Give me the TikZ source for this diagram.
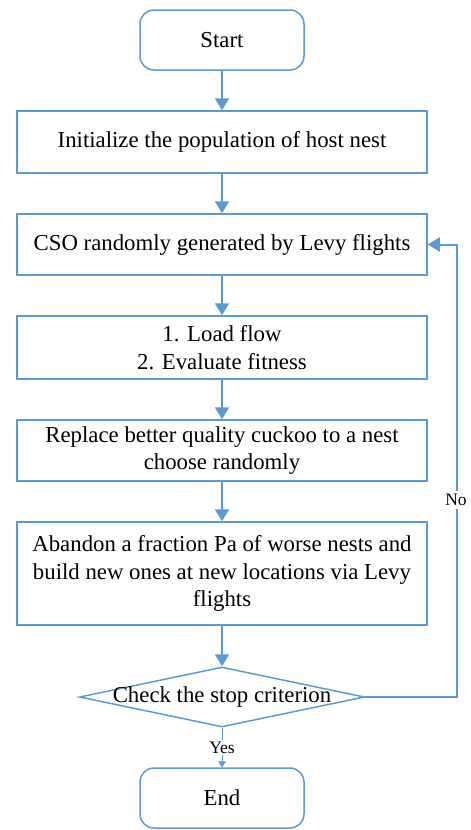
\documentclass[tikz,border=0pt]{standalone}
\usepackage{fontspec}
\setmainfont{Liberation Serif}
\newfontfamily\tnr{Liberation Serif}
\usetikzlibrary{arrows.meta,shapes.geometric}
\definecolor{lineblue}{HTML}{5B9BD5}
\begin{document}
\begin{tikzpicture}[x=1pt,y=-1pt, font=\tnr\fontsize{22.8}{27.5}\selectfont,
  box/.style={draw=lineblue, line width=1.5pt, fill=white, minimum width=410pt, align=center, inner sep=0pt},
  term/.style={draw=lineblue, line width=1.5pt, rounded corners=14pt, minimum width=164pt, minimum height=60pt},
  arr/.style={draw=lineblue, line width=2pt, -{Triangle[length=12pt,width=14pt]}},
  lbl/.style={fill=white, inner sep=3pt, font=\tnr\fontsize{17.5}{20}\selectfont}]
\useasboundingbox (0,0) rectangle (471,830);
\node[term] (start) at (222,40) {Start};
\node[box, minimum height=62pt] (b1) at (222,142) {Initialize the population of host nest};
\node[box, minimum height=61pt] (b2) at (222,244.5) {CSO randomly generated by Levy flights};
\node[box, minimum height=63pt] (b3) at (222,347.5) {1. Load flow\\2. Evaluate fitness};
\node[box, minimum height=61pt] (b4) at (222,450.5) {Replace better quality cuckoo to a nest\\choose randomly};
\node[box, minimum height=103pt] (b5) at (222,573.5) {Abandon a fraction Pa of worse nests and\\build new ones at new locations via Levy\\flights};
\node[diamond, draw=lineblue, line width=1.5pt, minimum width=285pt, minimum height=60pt, inner sep=0pt] (chk) at (222,697) {};
\node (chktext) at (chk) {Check the stop criterion};
\node[term] (end) at (222,798) {End};
\draw[arr] (start) -- (b1);
\draw[arr] (b1) -- (b2);
\draw[arr] (b2) -- (b3);
\draw[arr] (b3) -- (b4);
\draw[arr] (b4) -- (b5);
\draw[arr] (b5) -- (chk);
\coordinate (lp) at (457,697);
\draw[arr] (chk.east) -- (lp) |- (b2.east);
\node[lbl] (no) at (456,500) {No};
\draw[draw=lineblue, line width=1pt, -{Triangle[length=6pt,width=8pt]}] (chk.south) -- (end.north) node[midway, lbl, inner sep=2pt] (yes) {Yes};
\end{tikzpicture}
\end{document}
